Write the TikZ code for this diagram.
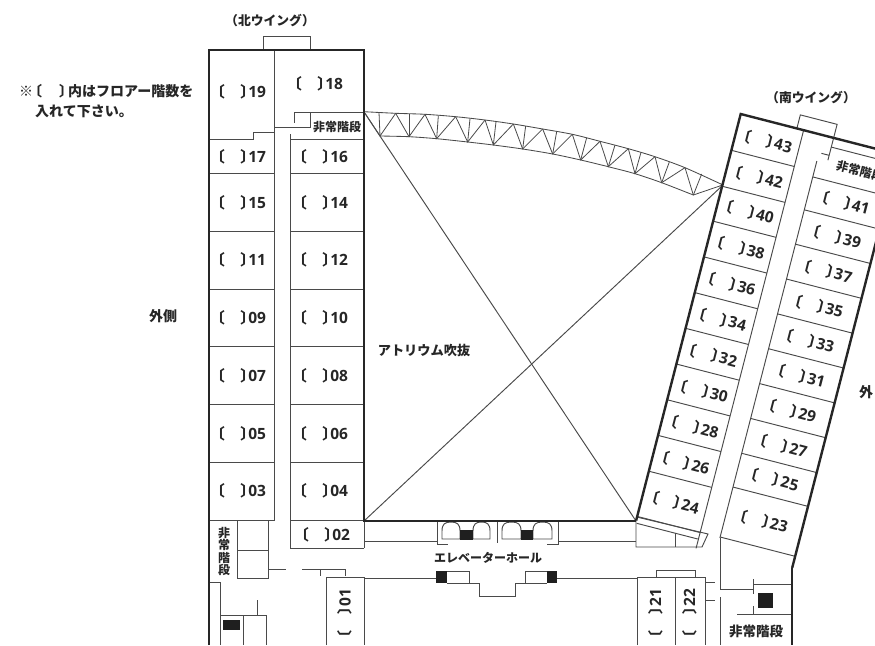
\documentclass[tikz,border=0pt]{standalone}
\usepackage{fontspec}
\newfontfamily\cjk{Noto Sans CJK JP}
\newfontfamily\dig{Open Sans}
\newcommand{\rmlabel}[1]{{\cjk\bfseries\fontsize{15}{15}\selectfont 〔\hspace{15.5pt}〕\hspace{-7pt}\dig\bfseries\fontsize{15.5}{15}\selectfont #1}}
\definecolor{wallc}{HTML}{262626}
\definecolor{linec}{HTML}{4A4A4A}
\tikzset{
  wall/.style={draw=wallc,line width=2.4pt},
  thin/.style={draw=linec,line width=0.95pt},
  blk/.style={fill=black!88,draw=none},
  room/.style={inner sep=0pt,anchor=west,text=black!85},
  lab/.style={inner sep=0pt,font=\cjk\bfseries\fontsize{12}{12}\selectfont,text=black!85},
}
\begin{document}
\begin{tikzpicture}[x=1pt,y=-1pt]
\useasboundingbox (0,0) rectangle (875,645);
\clip (0,0) rectangle (875,645);
% north wing walls
\draw[thin] (263,50) -- (263,36) -- (310,36) -- (310,50);
\draw[thin] (274,50) -- (274,521);
\draw[thin] (209,139) -- (253,139) -- (253,132) -- (274,132);
\draw[thin] (274,127) -- (310,127) -- (310,112) -- (294,112) -- (294,123);
\draw[thin] (310,112) -- (364,112);
\draw[thin] (290,134) -- (290,548) -- (364,548);
\draw[thin] (290,139) -- (364,139);
\foreach \y in {173,231,289,346,404,462,520}{
  \draw[thin] (209,\y) -- (274,\y);
  \draw[thin] (290,\y) -- (364,\y);
}
% NW stair and corridor
\draw[thin] (237,520) -- (237,578) -- (268,578) -- (268,520);
\draw[thin] (237,550) -- (268,550);
\draw[thin] (268,569) -- (286,569);
\draw[thin] (302,569) -- (345,569) -- (345,576);
\draw[thin] (320,569) -- (320,576);
\draw[thin] (326,645) -- (326,577) -- (364,577) -- (364,645);
\draw[thin] (364,578) -- (436,578);
\draw[thin] (364,541) -- (437,541);
\draw[thin] (364,548) -- (364,521);
\draw[thin] (209,582) -- (220,582) -- (220,645);
\draw[thin] (220,615) -- (266,615) -- (266,645);
\draw[thin] (243,615) -- (243,645);
\draw[thin] (257,600) -- (257,615);
\fill[blk] (223,620) rectangle (240,630);
% atrium
\draw[thin] (364,112) -- (636,521);
\draw[thin] (364,521) -- (723,185);
% truss
\draw[line width=0.85pt,draw=linec,line join=round] plot[smooth,tension=0.5] coordinates {(364,111.7) (395.7,113.3) (425,114.3) (455.7,116.7) (485,120) (513.3,124) (542.7,129) (572.3,134.3) (600,141.3) (628.3,148.7) (655,156.7) (685,167.7) (723,185)};
\draw[line width=0.85pt,draw=linec,line join=round] plot[smooth,tension=0.5] coordinates {(380,136) (409,136.7) (436.7,138.7) (467.7,142) (493.3,145) (522.7,149) (552.7,154) (580.7,160) (608.3,166.7) (635,173.7) (661.7,182.7) (693.3,195)};
\foreach \bx/\by/\lx/\ly/\mx/\my/\rx/\ry in {
 60/108/12/35/57/37/107/40, 147/110/107/40/147/41/195/43, 230/116/195/43/235/47/287/50,
 323/126/287/50/330/56/375/60, 400/135/375/60/408/65/460/72, 488/147/460/72/497/78/548/87,
 578/162/548/87/590/95/637/103, 662/180/637/103/680/113/720/124, 745/200/720/124/765/135/805/146,
 825/221/805/146/843/157/885/170, 905/248/885/170/928/186/975/203, 1000/285/975/203/1025/222/1088/255}{
 \draw[line width=0.8pt,draw=linec] (360+\lx/3,100+\ly/3) -- (360+\bx/3,100+\by/3) -- (360+\rx/3,100+\ry/3);
 \draw[line width=0.8pt,draw=linec] (360+\bx/3,100+\by/3) -- (360+\mx/3,100+\my/3);
}
% elevators
\draw[thin] (437,521) -- (437,544) -- (448,544);
\draw[thin] (497,521) -- (497,543);
\draw[thin] (558,521) -- (558,544) -- (547,544);
\draw[thin] (558,541) -- (636,541);
\foreach \xa/\xb in {442/460,473/490,502/521,533/552}{
  \draw[thin] (\xa,539) -- (\xa,531) .. controls (\xa,524) and (\xa+3,522) .. ({(\xa+\xb)/2},522) .. controls (\xb-3,522) and (\xb,524) .. (\xb,531) -- (\xb,539) -- cycle;
}
\fill[blk] (460,530) rectangle (473,539.5);
\fill[blk] (521,530) rectangle (533,539.5);
% lift hall
\fill[blk] (436,571) rectangle (447,583);
\fill[blk] (547,571) rectangle (557,583);
\draw[thin] (447,571) -- (469,571) -- (469,583) -- (447,583);
\draw[thin] (469,583) -- (479,583) -- (479,596) -- (515,596) -- (515,583) -- (525,583);
\draw[thin] (547,571) -- (525,571) -- (525,583) -- (547,583);
\draw[thin] (557,578) -- (637,578);
% rooms 21 22
\draw[thin] (637,645) -- (637,577) -- (705,577) -- (705,645);
\draw[thin] (675,577) -- (675,645);
\draw[thin] (656,577) -- (656,570) -- (695,570) -- (695,577);
\draw[thin] (705,582) -- (715,582);
\draw[thin] (705,600) -- (715,600);
% SE stair
\draw[thin] (720,538) -- (720,589) -- (753,589);
\draw[thin] (720,597) -- (720,645);
\draw[thin] (753,579) -- (753,594);
\draw[thin] (753,606) -- (753,614);
\draw[thin] (753,584) -- (792,584);
\draw[thin] (737,614) -- (792,614);
\fill[blk] (758,593) rectangle (773,608);
\draw[draw=wallc,line width=1.3pt] (792,568) -- (792,645);
% south junction
\draw[thin] (636,521) -- (636,547) -- (702,547) -- (708,534) -- (636.7,517);
\draw[thin] (636.7,523.3) -- (697.7,539);
\draw[thin] (675,533) -- (675,547);
% south wing in local axes
\begin{scope}[shift={(740.7,114)},x={(0.968pt,-0.249pt)},y={(-0.249pt,-0.968pt)}]
  \draw[thin] (65,0) -- (65,432);
  \draw[thin] (85.5,26.6) -- (85.5,416);
  \foreach \b in {37.5,74.6,110.7,147.6,184.5,221.4,258.3,295.2,332,369,415.7}{
    \draw[thin] (0,\b) -- (65,\b);
  }
  \foreach \b in {43,77,112.5,148.5,184.5,220.5,256.5,292.5,328.5,363.4,415}{
    \draw[thin] (85.5,\b) -- (163,\b);
  }
  % tab and stair detail
  \draw[thin] (58,0) -- (58,-14) -- (96,-14) -- (96,23);
  \draw[thin] (96,9.5) -- (180,9.5);
  \draw[thin] (88,18) -- (96,18);
  % walls
  \draw[wall] (0,420) -- (0,0) -- (200,0);
  \draw[wall] (163,427) -- (163,-20);
  % labels
  \foreach \n/\b in {43/20,42/57,40/93,38/130,36/167,34/204,32/241,30/278,28/315,26/352,24/393}{
    \node[room,rotate=-14.4] at (1.5,\b) {\rmlabel{\n}};
  }
  \foreach \n/\b in {41/60,39/95,37/131,35/167,33/203,31/239,29/275,27/311,25/346,23/389}{
    \node[room,rotate=-14.4] at (92,\b) {\rmlabel{\n}};
  }
  \node[lab,anchor=west,rotate=-14.4] at (105.6,25.5) {非常階段};
\end{scope}
% north walls
\draw[wall] (209,645) -- (209,50) -- (364,50) -- (364,521) -- (636,521);
% north labels
\foreach \n/\y in {19/92,17/157,15/203,11/260,09/318,07/376,05/434,03/491}{
  \node[room] at (209.6,\y) {\rmlabel{\n}};
}
\foreach \n/\y in {16/157,14/203,12/260,10/318,08/376,06/434,04/491}{
  \node[room] at (291.6,\y) {\rmlabel{\n}};
}
\node[room] at (286.6,84) {\rmlabel{18}};
\node[room] at (293.6,535) {\rmlabel{02}};
\node[room,rotate=90] at (345,645.4) {\rmlabel{01}};
\node[room,rotate=90] at (655.5,645.4) {\rmlabel{21}};
\node[room,rotate=90] at (689.5,645.4) {\rmlabel{22}};
% other text
\node[lab] at (337,127) {非常階段};
\foreach \c/\y in {非/533,常/545,階/558,段/570}{\node[lab] at (224,\y) {\c};}
\node[lab,font=\cjk\bfseries\fontsize{13.5}{13.5}\selectfont] at (756,631) {非常階段};
\node[lab,font=\cjk\bfseries\fontsize{12.8}{13}\selectfont] at (270,21) {（北ウイング）};
\node[lab,font=\cjk\bfseries\fontsize{12.8}{13}\selectfont] at (811,98) {（南ウイング）};
\node[lab,font=\cjk\bfseries\fontsize{14}{14}\selectfont] at (163,316) {外側};
\node[lab,font=\cjk\bfseries\fontsize{14}{14}\selectfont,anchor=west] at (859,392) {外};
\node[lab,font=\cjk\bfseries\fontsize{13.2}{14}\selectfont] at (424,350) {アトリウム吹抜};
\node[lab] at (488,558) {エレベーターホール};
\node[lab,anchor=west,font=\cjk\bfseries\fontsize{14}{14}\selectfont] at (19,91) {※\hspace{-5pt}〔\hspace{17pt}〕\hspace{-5pt}内はフロアー階数を};
\node[lab,anchor=west,font=\cjk\bfseries\fontsize{14}{14}\selectfont] at (35,111) {入れて下さい。};
\end{tikzpicture}
\end{document}
